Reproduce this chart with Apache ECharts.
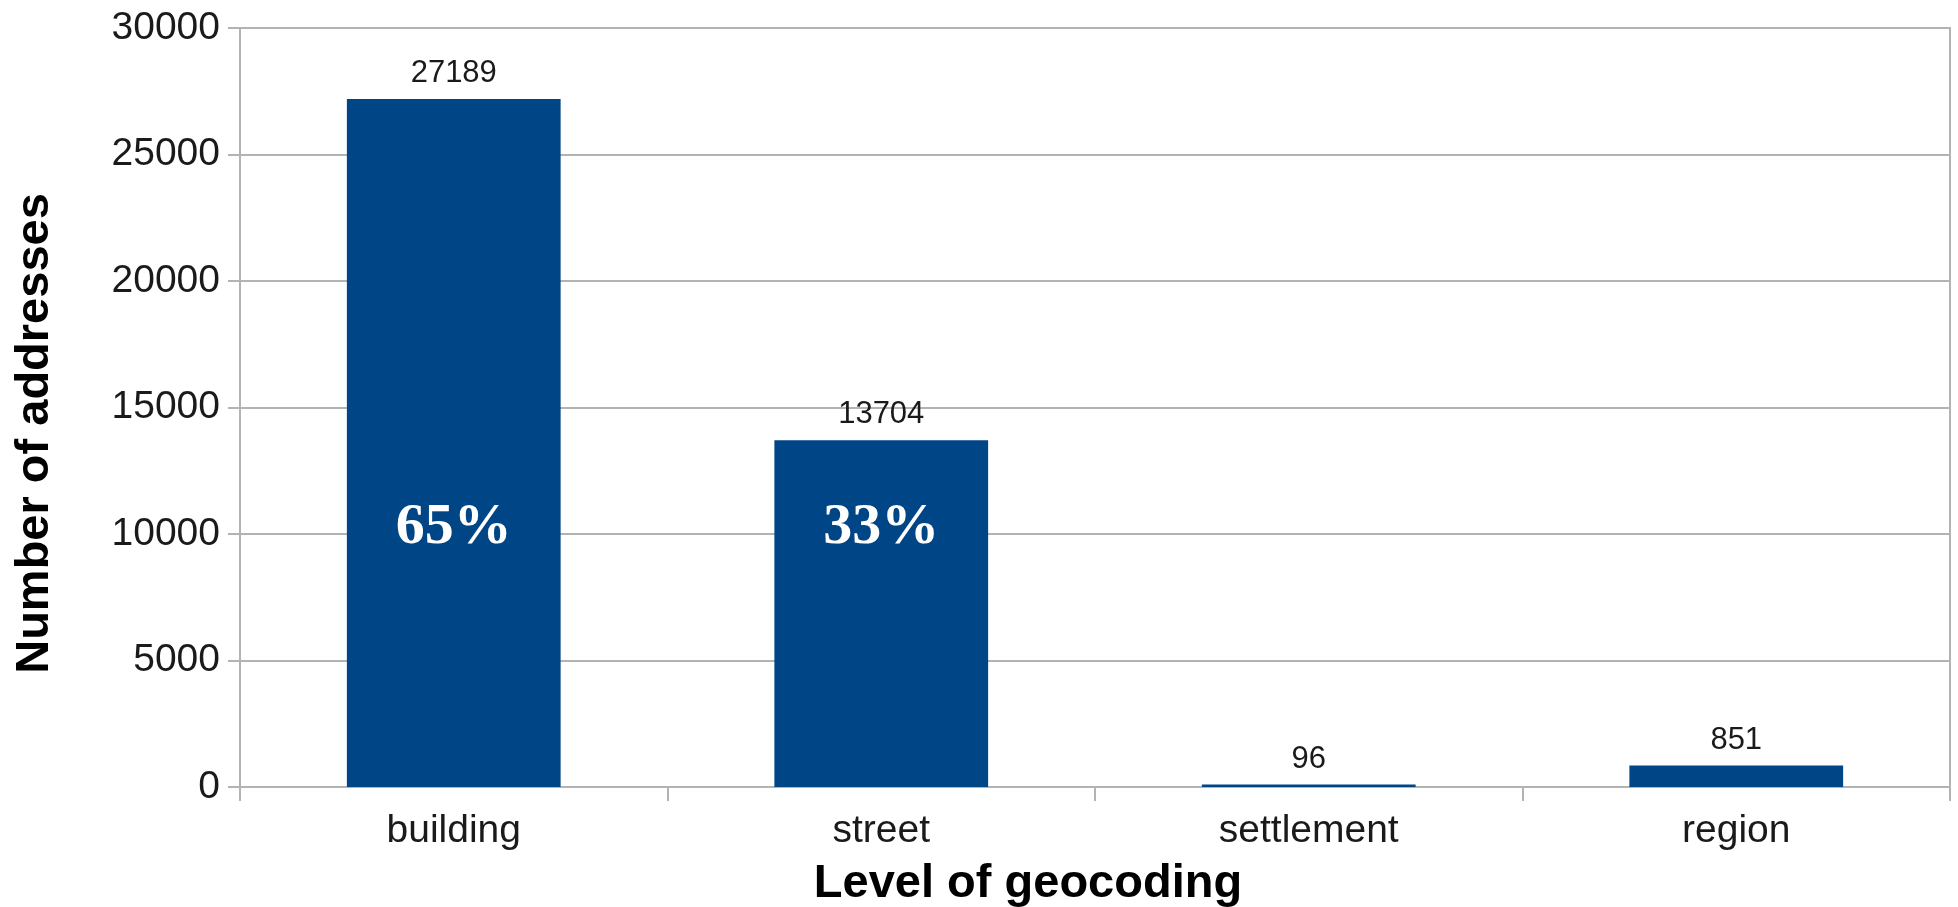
<!DOCTYPE html>
<html>
<head>
<meta charset="utf-8">
<title>Level of geocoding</title>
<script src="https://cdn.jsdelivr.net/npm/echarts@6/dist/echarts.min.js"></script>
<style>
  html, body { margin: 0; padding: 0; background: #ffffff; }
  #chart { width: 1958px; height: 907px; }
</style>
</head>
<body>
<div id="chart"></div>
<script>
// Geocoded addresses by level of geocoding
const categories = ['building', 'street', 'settlement', 'region'];
const addressCounts = [27189, 13704, 96, 851];
const shareLabels = ['65%', '33%', '', ''];
const yTicks = { min: 0, max: 30000, interval: 5000 };

const BAR_BLUE = '#004586';
const GRID_GRAY = '#b3b3b3';
const TEXT = '#1a1a1a';

const chart = echarts.init(document.getElementById('chart'), null, { renderer: 'canvas' });

chart.setOption({
  animation: false,
  backgroundColor: '#ffffff',
  grid: {
    left: 240, right: 8, top: 28, bottom: 120,
    outerBoundsMode: 'none',
    containLabel: false,
    show: true, borderColor: GRID_GRAY, borderWidth: 2, backgroundColor: 'transparent'
  },
  xAxis: {
    type: 'category',
    data: categories,
    name: 'Level of geocoding',
    nameLocation: 'middle',
    nameGap: 74,
    nameTextStyle: {
      fontFamily: 'Liberation Sans', fontWeight: 'bold', fontSize: 47, color: '#000',
      padding: [0, 134, 0, 0]
    },
    axisLine: { show: true, lineStyle: { color: GRID_GRAY, width: 2 } },
    axisTick: { show: true, length: 14, lineStyle: { color: GRID_GRAY, width: 2 } },
    axisLabel: { fontFamily: 'Liberation Sans', fontSize: 39, color: TEXT, margin: 25 }
  },
  yAxis: {
    type: 'value',
    min: yTicks.min, max: yTicks.max, interval: yTicks.interval,
    name: 'Number of addresses',
    nameLocation: 'middle',
    nameGap: 181,
    nameTextStyle: {
      fontFamily: 'Liberation Sans', fontWeight: 'bold', fontSize: 47, color: '#000',
      padding: [0, 52, 0, 0]
    },
    axisLine: { show: true, lineStyle: { color: GRID_GRAY, width: 2 } },
    axisTick: { show: true, length: 12, lineStyle: { color: GRID_GRAY, width: 2 } },
    splitLine: { show: true, lineStyle: { color: GRID_GRAY, width: 2 } },
    axisLabel: {
      fontFamily: 'Liberation Sans', fontSize: 39, color: TEXT, margin: 20,
      formatter: v => String(v)
    }
  },
  series: [
    {
      type: 'bar',
      data: addressCounts,
      barWidth: '50%',
      itemStyle: { color: BAR_BLUE },
      label: {
        show: true, position: 'top', distance: 10,
        fontFamily: 'Liberation Sans', fontSize: 31, color: TEXT
      }
    },
    {
      // overlay carrying the share of all addresses inside each bar
      type: 'bar',
      data: addressCounts,
      barWidth: '50%',
      barGap: '-100%',
      silent: true,
      itemStyle: { color: 'rgba(0,0,0,0)' },
      label: {
        show: true, position: 'insideBottom', distance: 230,
        formatter: p => shareLabels[p.dataIndex],
        fontFamily: 'Liberation Serif', fontWeight: 'bold', fontSize: 58, color: '#ffffff'
      }
    }
  ]
});
</script>
</body>
</html>
